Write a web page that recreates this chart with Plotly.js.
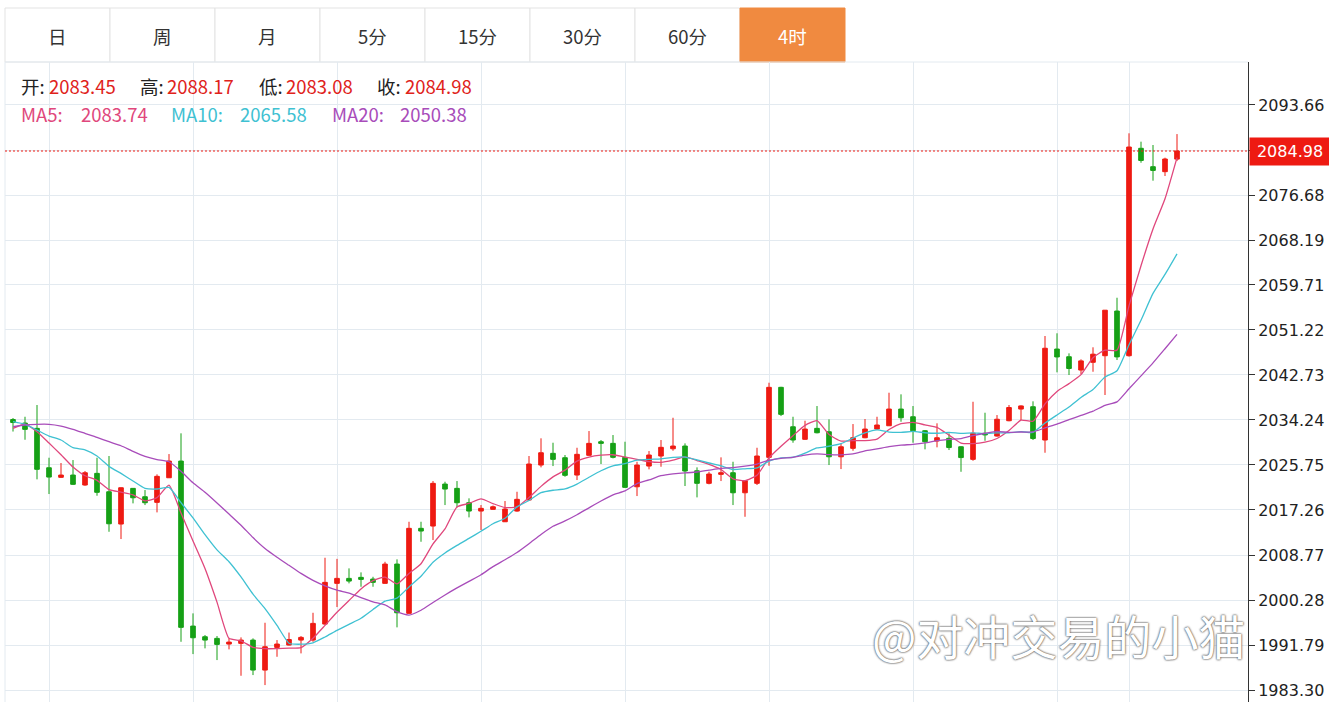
<!DOCTYPE html>
<html>
<head>
<meta charset="utf-8">
<script src="https://cdn.plot.ly/plotly-3.0.1.min.js"></script>
<style>html,body{margin:0;padding:0;background:#fff;}#chart{width:1329px;height:702px;}</style>
</head>
<body>
<div id="chart"></div>
<script>
// ---- data ----
const tabs = ['日','周','月','5分','15分','30分','60分','4时'];
const activeTab = 7;

// closes before the first visible candle (used only for the moving averages)
const prevCloses = [2026.07, 2022.33, 2023.47, 2030.25, 2034.50, 2039.49, 2035.59, 2031.26, 2036.66, 2040.68,
  2037.37, 2035.73, 2034.77, 2031.35, 2036.58, 2028.42, 2032.18, 2034.12, 2034.82];

const opens = [2034.32,2033.66,2032.66,2025.23,2023.42,2023.85,2021.97,2024.17,2020.70,2014.61,
  2021.34,2019.76,2018.70,2023.34,2026.49,1995.36,1993.35,1993.04,1991.97,1992.10,
  1992.72,1987.06,1991.34,1991.78,1992.72,1992.72,1995.74,2003.42,2004.36,2004.55,
  2004.23,2003.42,2007.06,1997.76,2013.80,2014.23,2022.15,2021.34,2018.63,2017.06,
  2017.38,2015.04,2017.06,2019.14,2025.74,2027.95,2027.12,2023.85,2027.57,2030.14,
  2029.83,2027.19,2021.64,2025.55,2027.44,2028.81,2029.32,2024.66,2022.29,2023.98,
  2024.29,2020.51,2022.29,2027.19,2040.40,2032.96,2030.59,2032.66,2032.02,2027.30,
  2028.89,2030.89,2032.53,2033.15,2036.30,2034.85,2032.21,2030.27,2030.78,2029.19,
  2026.81,2031.72,2031.21,2034.10,2036.30,2036.74,2030.46,2047.62,2046.17,2043.66,
  2045.12,2046.36,2054.79,2046.36,2085.49,2082.02,2081.08,2083.45];
const highs = [2034.61,2034.85,2037.06,2027.12,2026.12,2026.68,2024.61,2027.12,2027.44,2021.50,
  2021.40,2021.02,2023.98,2027.81,2031.72,1997.76,1993.67,1993.48,1993.04,1993.23,
  1993.04,1995.99,1992.72,1994.14,1993.48,1997.87,2008.25,2008.04,2006.25,2005.49,
  2004.66,2007.49,2007.95,2015.04,2015.04,2022.72,2022.59,2022.72,2019.46,2018.19,
  2018.10,2018.95,2020.70,2027.44,2030.78,2029.95,2027.63,2029.00,2032.15,2030.46,
  2031.40,2030.14,2026.36,2028.38,2030.46,2034.66,2029.83,2025.30,2024.47,2027.19,
  2026.36,2022.90,2029.00,2041.27,2040.50,2034.85,2034.10,2036.87,2034.36,2029.83,
  2033.47,2034.42,2034.85,2039.38,2039.08,2036.87,2032.34,2033.61,2031.72,2029.30,
  2037.68,2035.61,2035.17,2037.06,2037.00,2037.76,2050.08,2050.59,2046.81,2045.68,
  2047.95,2054.98,2057.30,2088.32,2086.74,2086.11,2083.72,2088.17];
const lows = [2032.06,2030.51,2023.04,2020.27,2023.30,2021.97,2021.83,2019.95,2013.15,2011.78,
  2018.51,2018.19,2016.81,2023.30,1992.40,1990.08,1991.16,1988.95,1990.97,1985.99,
  1986.12,1984.23,1989.57,1991.70,1990.21,1992.40,1995.60,1998.95,2003.42,2002.78,
  2002.78,2003.40,1995.12,1997.70,2011.27,2011.59,2018.19,2017.76,2015.87,2013.48,
  2017.30,2015.00,2016.93,2019.04,2025.30,2025.55,2023.53,2022.91,2027.50,2025.93,
  2027.00,2021.50,2019.89,2024.93,2025.42,2028.44,2021.78,2019.64,2022.10,2022.72,
  2018.19,2015.98,2021.97,2025.61,2034.98,2029.95,2030.50,2031.72,2025.74,2024.98,
  2028.44,2030.80,2032.34,2033.10,2033.91,2029.95,2028.70,2029.08,2028.57,2024.47,
  2026.55,2030.32,2031.10,2034.00,2034.23,2030.46,2028.06,2043.23,2042.72,2042.91,
  2043.34,2038.95,2045.55,2046.20,2082.77,2079.38,2080.26,2083.08];
const closes = [2033.76,2032.47,2024.93,2023.47,2023.85,2022.10,2024.29,2020.59,2014.66,2021.46,
  2019.57,2018.63,2023.61,2026.49,1995.12,1993.16,1992.72,1991.91,1992.34,1992.72,
  1987.06,1991.46,1991.97,1992.82,1993.23,1995.87,2003.61,2004.36,2003.85,2004.17,
  2003.61,2007.06,1997.87,2013.80,2013.29,2022.29,2021.21,2018.63,2017.06,2017.57,
  2017.87,2017.44,2019.27,2025.93,2028.06,2026.81,2023.80,2027.76,2029.83,2029.83,
  2027.19,2021.53,2025.74,2027.63,2029.08,2029.32,2024.61,2022.29,2024.04,2024.29,
  2020.51,2022.78,2027.44,2040.40,2035.30,2030.46,2032.53,2031.83,2027.30,2029.19,
  2030.89,2032.53,2033.29,2036.30,2034.66,2032.21,2030.14,2030.89,2029.04,2027.15,
  2031.74,2031.42,2034.38,2036.59,2036.89,2030.74,2047.77,2046.13,2043.95,2045.39,
  2046.65,2054.95,2046.14,2085.73,2083.20,2081.32,2083.47,2084.98];

const yTickVals = [1983.30,1991.79,2000.28,2008.77,2017.26,2025.75,2034.24,2042.73,2051.22,2059.71,2068.19,2076.68,2085.17,2093.66];

// ---- derived ----
const n = closes.length;
const xs = closes.map((_, i) => i);
const all = prevCloses.concat(closes);
function ma(p) {
  return closes.map((_, i) => {
    const j = i + prevCloses.length;
    let s = 0;
    for (let k = j - p + 1; k <= j; k++) s += all[k];
    return s / p;
  });
}
const ma5 = ma(5), ma10 = ma(10), ma20 = ma(20);
const last = n - 1;

// ---- styling ----
const RED = '#ee1a12', GREEN = '#16a016';
const C5 = '#e0477c', C10 = '#3fc1d2', C20 = '#a84cba';
const GRID = '#e3eaf0';
const FONT = 'Noto Sans CJK SC, Noto Sans, sans-serif';

// pixel helpers for the plot area (l=5, r=81, t=62, b=0)
const PL = 5, PW = 1243, PT = 62, PH = 640;
const px = v => (v - PL) / PW;
const py = v => (PT + PH - v) / PH;

const traces = [
  {type: 'candlestick', x: xs, open: opens, high: highs, low: lows, close: closes,
   increasing: {line: {color: RED, width: 1}, fillcolor: RED},
   decreasing: {line: {color: GREEN, width: 1}, fillcolor: GREEN},
   whiskerwidth: 0, hoverinfo: 'none', showlegend: false},
  {type: 'scatter', mode: 'lines', x: xs, y: ma5, line: {color: C5, width: 1.3, shape: 'spline', smoothing: 0.5}, hoverinfo: 'none', showlegend: false},
  {type: 'scatter', mode: 'lines', x: xs, y: ma10, line: {color: C10, width: 1.3, shape: 'spline', smoothing: 0.5}, hoverinfo: 'none', showlegend: false},
  {type: 'scatter', mode: 'lines', x: xs, y: ma20, line: {color: C20, width: 1.3, shape: 'spline', smoothing: 0.5}, hoverinfo: 'none', showlegend: false}
];

const shapes = [];
const annotations = [];

// tabs
tabs.forEach((t, i) => {
  const x0 = 5 + 105 * i, x1 = x0 + 105;
  const active = i === activeTab;
  shapes.push({type: 'rect', xref: 'paper', yref: 'paper', x0: px(x0), x1: px(x1), y0: py(62), y1: py(8),
    line: {color: active ? '#f08a40' : '#e3e3e3', width: 1}, fillcolor: active ? '#f08a40' : '#ffffff', layer: 'below'});
  annotations.push({xref: 'paper', yref: 'paper', x: px((x0 + x1) / 2), y: py(36), text: t, showarrow: false,
    xanchor: 'center', yanchor: 'middle', font: {family: FONT, size: 18.5, color: active ? '#ffffff' : '#333333'}});
});

// plot frame lines
shapes.push({type: 'line', xref: 'paper', yref: 'paper', x0: 0, x1: 1, y0: 1, y1: 1, line: {color: GRID, width: 1}});
shapes.push({type: 'line', xref: 'paper', yref: 'paper', x0: 0, x1: 0, y0: 0, y1: 1, line: {color: GRID, width: 1}});

// last price line + label
shapes.push({type: 'line', xref: 'paper', yref: 'y', x0: 0, x1: 1, y0: closes[last], y1: closes[last],
  line: {color: RED, width: 1, dash: '2px,2px'}});
annotations.push({xref: 'paper', yref: 'y', x: 1, y: closes[last], xanchor: 'left', yanchor: 'middle', xshift: 1,
  text: closes[last].toFixed(2), showarrow: false, bgcolor: RED, borderpad: 4, width: 72,
  font: {family: 'DejaVu Sans, sans-serif', size: 16, color: '#ffffff'}});

const INFO_SIZE = 18.5;
const Y1 = 86, Y2 = 114;
// OHLC info line: [label, value, label x, value x]
const info = [['开:', opens[last], 19, 47], ['高:', highs[last], 138, 165], ['低:', lows[last], 257, 284], ['收:', closes[last], 375, 403]];
info.forEach(([k, v, xl, xv]) => {
  annotations.push({xref: 'paper', yref: 'paper', x: px(xl), y: py(Y1), xanchor: 'left', yanchor: 'middle', showarrow: false,
    text: k, font: {family: FONT, size: INFO_SIZE, color: '#222222'}});
  annotations.push({xref: 'paper', yref: 'paper', x: px(xv), y: py(Y1), xanchor: 'left', yanchor: 'middle', showarrow: false,
    text: v.toFixed(2), font: {family: FONT, size: INFO_SIZE, color: '#e0221a'}});
});
// MA info line
const mainfo = [['MA5:', ma5[last], C5, 19, 79], ['MA10:', ma10[last], C10, 169, 238], ['MA20:', ma20[last], C20, 330, 398]];
mainfo.forEach(([k, v, c, xl, xv]) => {
  annotations.push({xref: 'paper', yref: 'paper', x: px(xl), y: py(Y2), xanchor: 'left', yanchor: 'middle', showarrow: false,
    text: k, font: {family: FONT, size: INFO_SIZE, color: c}});
  annotations.push({xref: 'paper', yref: 'paper', x: px(xv), y: py(Y2), xanchor: 'left', yanchor: 'middle', showarrow: false,
    text: v.toFixed(2), font: {family: FONT, size: INFO_SIZE, color: c}});
});

// watermark
annotations.push({xref: 'paper', yref: 'paper', x: px(1058), y: py(634), xanchor: 'center', yanchor: 'middle', showarrow: false,
  text: '@对冲交易的小猫', font: {family: FONT, size: 47, color: '#ffffff', shadow: '0px 0px 2px #555, 0px 0px 2px #555'}});

const layout = {
  width: 1329, height: 702,
  margin: {l: PL, r: 1329 - PL - PW, t: PT, b: 0},
  paper_bgcolor: '#ffffff', plot_bgcolor: '#ffffff',
  showlegend: false, boxgap: 0.45, hovermode: false, dragmode: false,
  xaxis: {type: 'linear', range: [(PL - 13) / 12, (PL + PW - 13) / 12], tickvals: [3, 15, 27, 39, 51, 63, 75, 87, 93],
    showticklabels: false, showgrid: true, gridcolor: GRID, gridwidth: 1, zeroline: false, showline: false,
    ticks: '', rangeslider: {visible: false}, fixedrange: true},
  yaxis: {side: 'right', range: [1981.04, 2101.77], tickvals: yTickVals,
    // the tick label next to the last-price box is covered by it, as in the original
    ticktext: yTickVals.map(v => Math.abs(v - closes[last]) < 4 ? '' : v.toFixed(2)),
    showgrid: true, gridcolor: GRID, gridwidth: 1, zeroline: false, showline: true, linecolor: '#333333', linewidth: 1,
    ticks: 'outside', ticklen: 6, tickcolor: '#333333', tickfont: {family: 'DejaVu Sans, sans-serif', size: 16, color: '#222222'},
    fixedrange: true},
  shapes: shapes, annotations: annotations
};

Plotly.newPlot('chart', traces, layout, {displayModeBar: false, staticPlot: true});
</script>
</body>
</html>
